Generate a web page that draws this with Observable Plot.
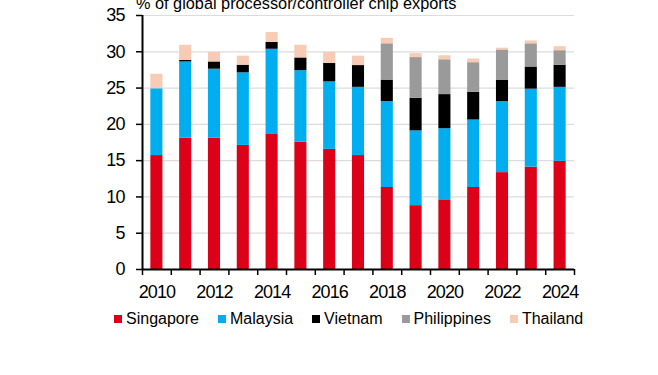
<!DOCTYPE html>
<html><head><meta charset="utf-8">
<script src="https://cdn.jsdelivr.net/npm/d3@7"></script>
<script src="https://cdn.jsdelivr.net/npm/@observablehq/plot@0.6"></script>
<style>
body{margin:0;background:#fff;font-family:"Liberation Sans",Arial,sans-serif;}
#wrap{position:relative;width:658px;height:375px;overflow:hidden;background:#fff;}
#chart{position:absolute;left:0;top:0;}
#chart svg text{letter-spacing:-0.9px;}
#title{position:absolute;left:136px;top:-5px;font-size:16.3px;line-height:16px;white-space:nowrap;color:#000;}
#legend{position:absolute;left:114px;top:311px;display:flex;align-items:center;font-size:16px;line-height:16px;color:#000;white-space:nowrap;}
.item{display:flex;align-items:center;margin-right:19px;}
.sw{width:8px;height:8px;margin-right:4px;}
</style></head><body>
<div id="wrap"><div id="chart"></div><div id="title">% of global processor/controller chip exports</div><div id="legend"></div></div>
<script>
const years = [2010,2011,2012,2013,2014,2015,2016,2017,2018,2019,2020,2021,2022,2023,2024];
const labelYears = [2010,2012,2014,2016,2018,2020,2022,2024];
const yTicks = [0,5,10,15,20,25,30,35];
const countries = ["Singapore","Malaysia","Vietnam","Philippines","Thailand"];
const colors = ["#dc0018","#00aeef","#000000","#9a9a9a","#f8cbb4"];
const singapore   = [15.7,18.1,18.1,17.1,18.6,17.55,16.55,15.7,11.3,8.8,9.6,11.3,13.35,14.1,14.9];
const malaysia    = [9.2,10.5,9.5,10.0,11.75,9.85,9.3,9.4,11.85,10.3,9.8,9.3,9.8,10.75,10.2];
const vietnam     = [0,0.2,1.0,1.05,0.95,1.75,2.55,3.0,2.95,4.5,4.7,3.8,2.95,3.05,3.05];
const philippines = [0,0,0,0,0,0,0,0,5.0,5.6,4.8,4.1,4.15,3.2,2.0];
const thailand    = [2.0,2.1,1.3,1.25,1.35,1.75,1.5,1.3,0.75,0.55,0.55,0.5,0.25,0.4,0.55];

const series = [singapore, malaysia, vietnam, philippines, thailand];
const data = [];
years.forEach((yr, i) => {
  countries.forEach((c, j) => data.push({year: yr, country: c, value: series[j][i]}));
});
const xDomain = [years[0] - 0.5, years[years.length - 1] + 0.5];
const boundaries = d3.range(xDomain[0], xDomain[1] + 0.01, 1);
const halfBar = 0.21;

const chart = Plot.plot({
  width: 658,
  height: 305,
  marginLeft: 142,
  marginRight: 84,
  marginTop: 15,
  marginBottom: 36,
  style: {fontFamily: '"Liberation Sans", Arial, sans-serif', fontSize: "18px", color: "#000", background: "transparent"},
  x: {type: "linear", domain: xDomain},
  y: {domain: [0, 35]},
  color: {domain: countries, range: colors},
  marks: [
    Plot.gridY(yTicks.filter(t => t > 0), {stroke: "#dcdcdc", strokeOpacity: 1, strokeWidth: 1.2}),
    Plot.rectY(data, Plot.stackY({
      x1: d => d.year - halfBar,
      x2: d => d.year + halfBar,
      y: "value",
      fill: "country"
    })),
    Plot.axisY(yTicks, {tickSize: 6, tickPadding: 12, strokeWidth: 1.5, fontSize: 18, label: null}),
    Plot.axisX(labelYears, {tickSize: 0, tickPadding: 16, tickFormat: d => String(d), fontSize: 18, label: null}),
    Plot.axisX(boundaries, {tickSize: 6, tickFormat: () => "", strokeWidth: 1.5, label: null}),
    Plot.ruleY([0], {stroke: "#000", strokeWidth: 2}),
    Plot.ruleX([xDomain[0]], {stroke: "#000", strokeWidth: 2})
  ]
});
document.getElementById("chart").appendChild(chart);

const legend = document.getElementById("legend");
countries.forEach((c, j) => {
  const item = document.createElement("div");
  item.className = "item";
  const sw = document.createElement("span");
  sw.className = "sw";
  sw.style.background = colors[j];
  const t = document.createElement("span");
  t.textContent = c;
  item.appendChild(sw);
  item.appendChild(t);
  legend.appendChild(item);
});
</script>
</body></html>
